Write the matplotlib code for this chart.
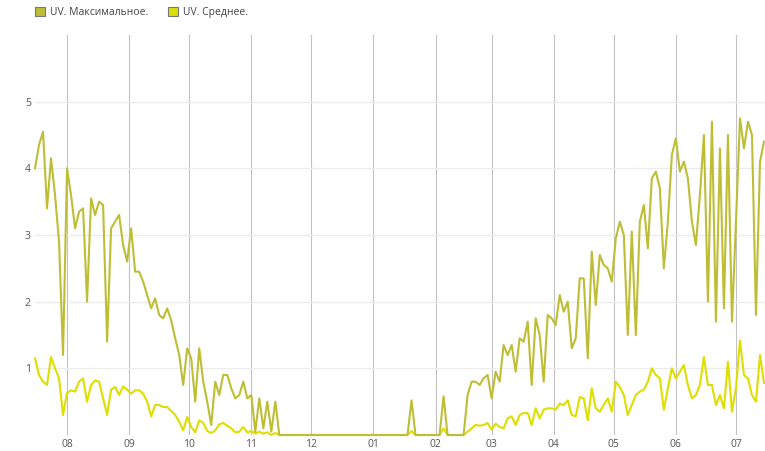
import pandas as pd
import matplotlib
matplotlib.use("Agg")
import matplotlib.pyplot as plt
import matplotlib.dates as mdates
from matplotlib.patches import Patch

plt.rcParams['font.family'] = ['Open Sans', 'DejaVu Sans']

# UV index, one reading every 2 days, 16.07.2018 - 15.07.2019
start = '2018-07-16'
uv_max = [4.0, 4.35, 4.55, 3.4, 4.15, 3.6, 2.9, 1.2, 4.0, 3.6,
          3.1, 3.35, 3.4, 2.0, 3.55, 3.3, 3.5, 3.45, 1.4, 3.1,
          3.2, 3.3, 2.85, 2.6, 3.1, 2.45, 2.45, 2.3, 2.1, 1.9,
          2.05, 1.8, 1.75, 1.9, 1.72, 1.45, 1.2, 0.75, 1.3, 1.15,
          0.5, 1.3, 0.8, 0.5, 0.15, 0.8, 0.6, 0.9, 0.9, 0.7,
          0.55, 0.6, 0.8, 0.55, 0.6, 0.05, 0.55, 0.1, 0.5, 0.05,
          0.5,
          0, 0, 0, 0, 0, 0, 0, 0, 0, 0, 0, 0, 0, 0, 0, 0, 0,
          0, 0, 0, 0, 0, 0, 0, 0, 0, 0, 0, 0, 0, 0, 0, 0,
          0.52,
          0, 0, 0, 0, 0, 0, 0,
          0.58,
          0, 0, 0, 0, 0,
          0.6, 0.8, 0.8, 0.75, 0.85, 0.9, 0.55, 0.95, 0.8, 1.35,
          1.2, 1.35, 0.95, 1.45, 1.4, 1.7, 0.75, 1.75, 1.5, 0.8,
          1.8, 1.75, 1.65, 2.1,
          1.85, 2.0, 1.3, 1.45, 2.35, 2.35, 1.15, 2.75, 1.95, 2.7,
          2.55, 2.5, 2.3, 2.95, 3.2, 3.0, 1.5, 3.05, 1.5, 3.2,
          3.45, 2.8, 3.85, 3.95, 3.7, 2.5, 3.2, 4.2,
          4.45, 3.95, 4.1, 3.85, 3.2, 2.85, 3.6, 4.5, 2.0, 4.7,
          1.7, 4.3, 1.9, 4.5, 1.7, 3.2, 4.75, 4.3, 4.7, 4.5,
          1.8, 4.1, 4.4]
uv_avg = [1.15, 0.9, 0.8, 0.75, 1.17, 1.0, 0.85, 0.3, 0.63, 0.67,
          0.65, 0.8, 0.85, 0.5, 0.75, 0.82, 0.8, 0.55, 0.3, 0.68,
          0.72, 0.6, 0.73, 0.68, 0.62, 0.67, 0.67, 0.62, 0.5, 0.28,
          0.45, 0.45, 0.42, 0.42, 0.36, 0.3, 0.2, 0.07, 0.27, 0.12,
          0.04, 0.22, 0.18, 0.06, 0.03, 0.07, 0.16, 0.18, 0.14, 0.1,
          0.04, 0.05, 0.12, 0.04, 0.06, 0.02, 0.05, 0.02, 0.04, 0.0,
          0.03,
          0, 0, 0, 0, 0, 0, 0, 0, 0, 0, 0, 0, 0, 0, 0, 0, 0,
          0, 0, 0, 0, 0, 0, 0, 0, 0, 0, 0, 0, 0, 0, 0, 0,
          0.06,
          0, 0, 0, 0, 0, 0, 0,
          0.1,
          0, 0, 0, 0, 0,
          0.05, 0.1, 0.15, 0.14, 0.15, 0.18, 0.08, 0.17, 0.12, 0.1,
          0.25, 0.28, 0.15, 0.3, 0.33, 0.33, 0.15, 0.4, 0.25, 0.38,
          0.4, 0.4, 0.38, 0.47,
          0.45, 0.52, 0.3, 0.28, 0.57, 0.55, 0.22, 0.7, 0.4, 0.35,
          0.45, 0.55, 0.35, 0.8, 0.72, 0.6, 0.3, 0.45, 0.6, 0.65,
          0.68, 0.8, 1.0, 0.9, 0.85, 0.38, 0.7, 1.0,
          0.85, 0.95, 1.05, 0.75, 0.55, 0.6, 0.75, 1.17, 0.75, 0.75,
          0.45, 0.6, 0.4, 1.1, 0.35, 0.7, 1.42, 0.9, 0.85, 0.6,
          0.5, 1.2, 0.78]
labels = ['UV. Максимальное.', 'UV. Среднее.']
yticks = [1, 2, 3, 4, 5]

dates = pd.date_range(start, periods=len(uv_max), freq='2D')

c_max = '#bebe36'
c_avg = '#dede00'

fig = plt.figure(figsize=(7.65, 4.51), dpi=100)
ax = fig.add_axes([35/765, 16/451, 730/765, 400/451])

ax.plot(dates, uv_avg, color=c_avg, lw=1.5, clip_on=False, zorder=3)
ax.plot(dates, uv_max, color=c_max, lw=1.5, clip_on=False, zorder=4)

ax.set_ylim(0, 6)
ax.set_xlim(pd.Timestamp('2018-07-16'), pd.Timestamp('2019-07-15 12:00'))
ax.set_yticks(yticks)
ax.xaxis.set_major_locator(mdates.MonthLocator())
ax.xaxis.set_major_formatter(mdates.DateFormatter('%m'))

ax.grid(axis='y', color='#ececec', lw=1)
ax.grid(axis='x', color='#c2c2c2', lw=0.8)
ax.set_axisbelow(True)
for s in ax.spines.values():
    s.set_visible(False)
ax.tick_params(length=0, labelsize=7.5, labelcolor='#555555')
ax.tick_params(axis='x', pad=3)
ax.tick_params(axis='y', pad=3)

handles = [Patch(facecolor=c_max, edgecolor='#777777', lw=0.8),
           Patch(facecolor=c_avg, edgecolor='#777777', lw=0.8)]
fig.legend(handles, labels, loc='upper left', bbox_to_anchor=(28/765, 1.0),
           ncol=2, frameon=False, fontsize=7.5, handlelength=1.0,
           handleheight=1.0, handletextpad=0.45, columnspacing=1.9,
           borderaxespad=0.25, labelcolor='#444444')

fig.savefig('out.png', dpi=100)
